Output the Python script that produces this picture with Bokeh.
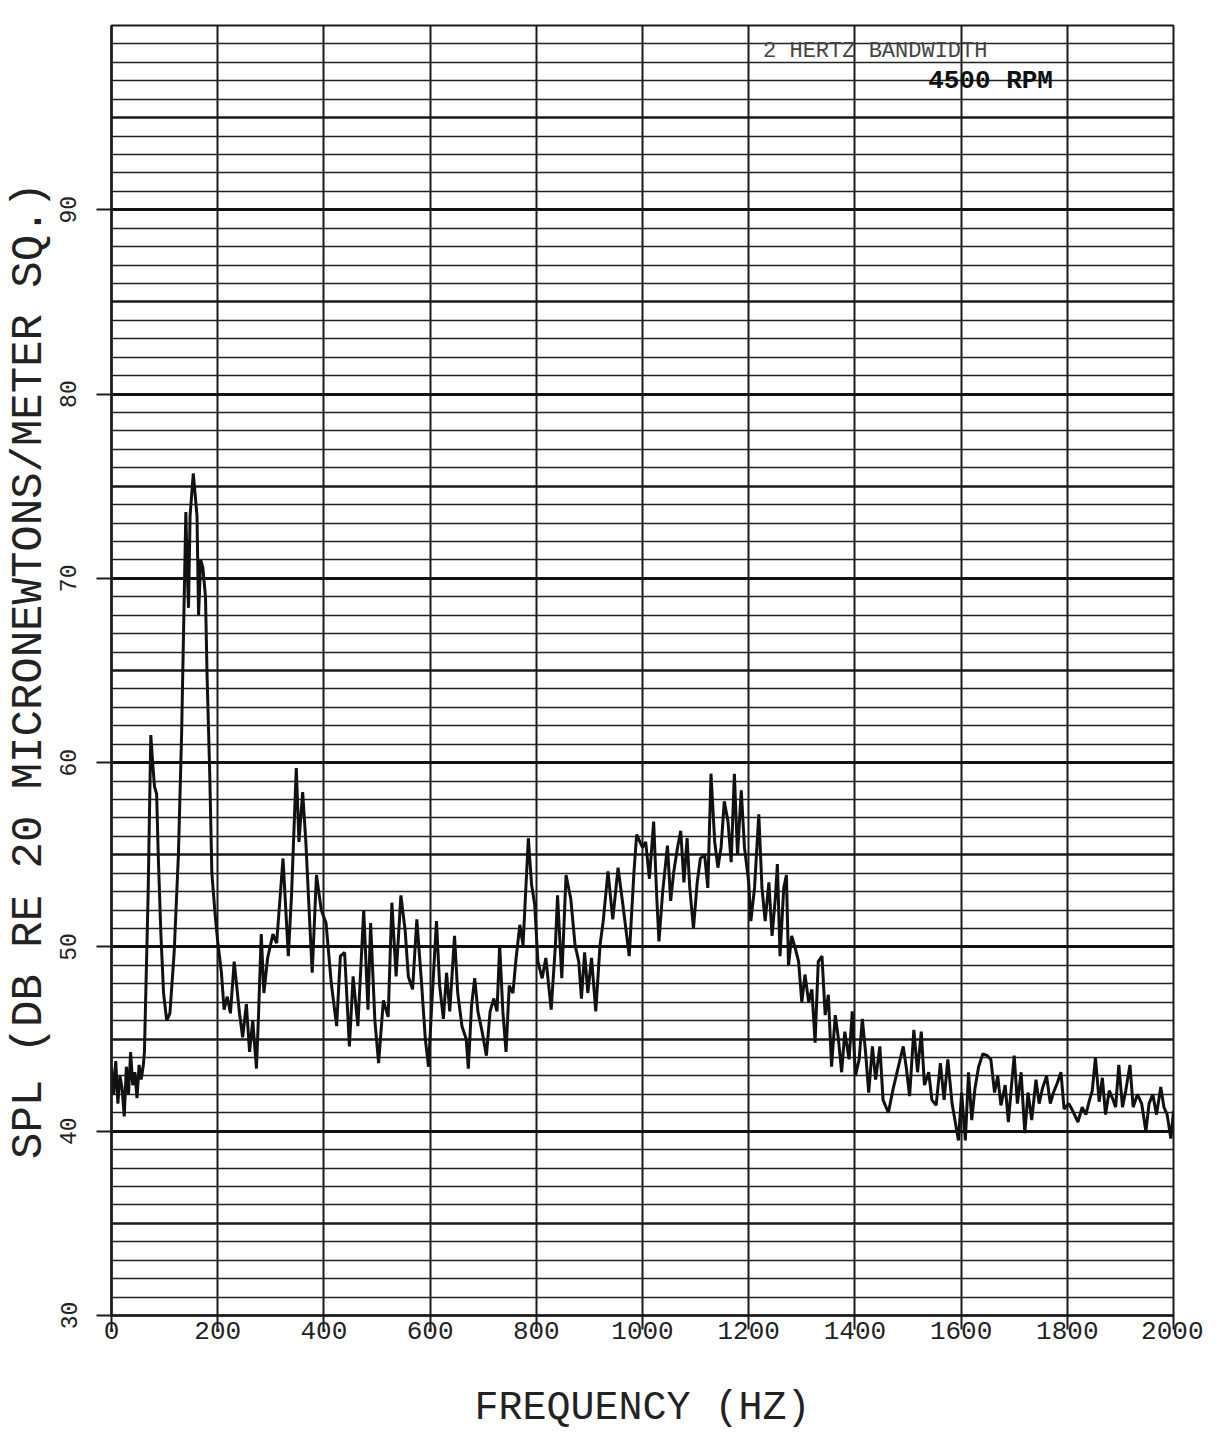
from bokeh.plotting import figure
from bokeh.models import Grid, FixedTicker, Range1d, Label
from bokeh.embed import file_html
from bokeh.resources import INLINE

# ---- data ----
freq = [0, 4, 8, 12, 16, 20, 24, 28, 32, 36, 40, 44, 48, 52, 56, 60,
        62, 69, 74, 78, 81, 85, 88, 93, 98, 104, 110, 118, 126, 132, 140, 143, 145, 148, 154, 158, 161,
        164, 168, 172, 177, 180, 185, 189, 195, 200, 207, 212, 218, 224, 231, 235, 241, 247, 254, 260,
        266, 273, 277, 282, 287, 294, 304,
        311, 323, 333, 339, 348, 353, 360, 366, 373, 378, 386, 395, 404, 414, 424, 431, 439, 448, 455,
        464, 475, 483, 488, 496, 503, 512, 521, 528, 536, 545, 553, 559, 567, 575, 584,
        591, 597, 603, 612, 618, 625, 631, 637, 646, 652, 660, 668, 672, 678, 684, 690, 698, 706, 713,
        720, 726, 731, 737, 743, 749, 756, 762, 769, 775, 785, 791, 797, 803, 811, 818, 828, 836, 840,
        848, 856, 865, 873, 880, 885, 891, 897, 904, 912, 920, 926, 935, 944, 954, 963, 975, 984, 989,
        1000, 1006, 1013, 1021, 1027, 1031, 1038, 1047, 1053, 1059, 1066, 1072, 1078, 1084, 1089, 1096,
        1103, 1109, 1117, 1123, 1129, 1136, 1142, 1148, 1154, 1161, 1167, 1173, 1179, 1186, 1192, 1200,
        1204, 1211, 1219, 1225, 1231, 1238, 1244, 1250, 1254, 1259, 1266, 1271, 1275, 1281, 1288, 1294,
        1300, 1306, 1313, 1319, 1325, 1331, 1338, 1344, 1350, 1356, 1363, 1369, 1375, 1381, 1389,
        1395, 1401, 1408, 1414, 1420, 1426, 1433, 1439, 1447, 1453, 1463, 1472, 1481, 1491, 1497, 1503,
        1511, 1518, 1525, 1531, 1539, 1545, 1553, 1561, 1568, 1575, 1583, 1589, 1595, 1601, 1608, 1614,
        1620, 1626, 1633, 1641, 1649, 1656, 1663, 1669, 1675, 1683, 1689, 1695, 1700, 1706, 1713, 1720,
        1726, 1733, 1741, 1747, 1753, 1761, 1768, 1774, 1781, 1788, 1794, 1803, 1812, 1820,
        1828, 1835, 1841, 1847, 1853, 1860, 1866, 1872, 1879, 1885,
        1891, 1897, 1904, 1910, 1918, 1924, 1932, 1940, 1948, 1954, 1961, 1968, 1976, 1982, 1988, 1995,
        2000]

spl = [43.5, 42.0, 43.8, 41.5, 43.0, 42.3, 40.8, 43.5, 42.0, 44.3, 42.5, 43.2, 41.8, 43.6, 42.8, 43.6,
       44.3, 52.9, 61.5, 59.8, 58.7, 58.3, 55.0, 50.7, 47.5, 46.0, 46.4, 49.7, 55.0, 61.5, 73.6, 70.1, 68.4, 73.4, 75.7, 74.4, 73.4,
       68.0, 71.0, 70.6, 69.0, 64.7, 59.4, 54.0, 51.8, 50.3, 48.6, 46.6, 47.3, 46.4, 49.2, 48.1, 46.4, 45.1, 46.9, 44.3,
       46.0, 43.4, 46.4, 50.7, 47.5, 49.4, 50.7,
       50.2, 54.8, 49.5, 52.8, 59.7, 55.7, 58.4, 55.7, 51.5, 48.6, 53.9, 52.0, 51.3, 48.0, 45.7, 49.5, 49.7, 44.6, 48.4,
       45.7, 52.0, 46.6, 51.3, 46.0, 43.7, 47.1, 46.2, 52.4, 48.4, 52.8, 50.9, 48.4, 47.7, 51.5, 48.0,
       45.0, 43.5, 46.8, 51.4, 47.9, 46.1, 48.6, 46.5, 50.6, 47.5, 45.7, 45.0, 43.4, 46.8, 48.3, 46.5, 45.4, 44.1, 46.5,
       47.2, 46.5, 50.1, 46.5, 44.3, 47.9, 47.5, 49.4, 51.2, 50.1, 55.9, 53.4, 52.3, 49.2, 48.3, 49.4, 46.6, 50.1, 52.8,
       48.3, 53.9, 52.6, 50.1, 49.2, 47.2, 49.7, 47.5, 49.4, 46.5, 50.1, 51.4, 54.1, 51.5, 54.3, 52.3, 49.5, 54.1, 56.1,
       55.4, 55.7, 53.7, 56.8, 52.6, 50.3, 53.0, 55.5, 52.5, 54.1, 55.4, 56.3, 53.5, 55.9, 53.2, 51.0,
       53.5, 54.8, 55.0, 53.2, 59.4, 55.7, 54.3, 55.4, 57.9, 56.8, 54.6, 59.4, 55.0, 58.5, 55.4, 53.5,
       51.4, 53.2, 57.2, 53.2, 51.4, 53.5, 50.6, 52.6, 54.5, 49.5, 53.2, 53.9, 49.0, 50.6, 49.9, 49.2,
       47.0, 48.5, 47.0, 47.7, 44.8, 49.2, 49.5, 46.3, 47.4, 43.5, 46.3, 45.0, 43.2, 45.4, 43.9,
       46.5, 43.0, 43.9, 46.1, 44.3, 42.1, 44.6, 42.8, 44.6, 41.7, 41.0, 42.3, 43.4, 44.6, 43.4, 41.9,
       45.5, 43.2, 45.4, 42.5, 43.2, 41.7, 41.4, 43.7, 41.7, 43.9, 41.5, 40.5, 39.5, 42.1, 39.5, 43.2,
       40.6, 42.3, 43.5, 44.2, 44.1, 43.9, 42.1, 43.0, 41.4, 42.5, 40.5, 42.5, 44.1, 41.5, 43.2, 39.9,
       42.1, 40.6, 42.8, 41.5, 42.3, 43.0, 41.5, 42.1, 42.6, 43.2, 41.2, 41.5, 41.0, 40.5,
       41.3, 40.9, 41.6, 42.2, 44.0, 41.6, 42.9, 40.9, 42.2, 41.8,
       41.3, 43.6, 41.3, 42.2, 43.6, 41.3, 42.0, 41.5, 40.0, 41.5, 42.0, 40.9, 42.4, 41.3, 40.9, 39.6,
       41.1]

x_ticks = [0, 200, 400, 600, 800, 1000, 1200, 1400, 1600, 1800, 2000]
y_ticks = [30, 40, 50, 60, 70, 80, 90]
grid_10db = [40, 50, 60, 70, 80, 90]
grid_5db = [35, 45, 55, 65, 75, 85, 95]
grid_1db = [v for v in range(31, 100) if v % 5 != 0]

FONT = "Liberation Mono"
INK = "#1a1a1a"

p = figure(frame_width=1062, frame_height=1290,
           x_range=Range1d(0, 2000), y_range=Range1d(30, 100),
           output_backend="svg", toolbar_location=None,
           min_border_left=110, min_border_top=25, min_border_right=30, min_border_bottom=118)
p.background_fill_color = "white"
p.border_fill_color = "white"
p.outline_line_color = INK
p.outline_line_width = 2

# grids
p.xgrid.ticker = FixedTicker(ticks=x_ticks)
p.xgrid.grid_line_color = INK
p.xgrid.grid_line_width = 2
p.ygrid.ticker = FixedTicker(ticks=grid_1db)
p.ygrid.grid_line_color = "#222222"
p.ygrid.grid_line_width = 1.7
p.add_layout(Grid(dimension=1, ticker=FixedTicker(ticks=grid_5db),
                  grid_line_color=INK, grid_line_width=2.4))
p.add_layout(Grid(dimension=1, ticker=FixedTicker(ticks=grid_10db),
                  grid_line_color="#111111", grid_line_width=3.2))

# axes
for ax in (p.xaxis[0], p.yaxis[0]):
    ax.axis_line_color = INK
    ax.axis_line_width = 2.5
    ax.major_tick_line_color = INK
    ax.major_tick_line_width = 2
    ax.major_tick_in = 0
    ax.minor_tick_in = 0
    ax.minor_tick_out = 0
    ax.major_label_text_font = FONT
    ax.major_label_text_color = "#222222"
    ax.axis_label_text_font = FONT
    ax.axis_label_text_font_style = "normal"
    ax.axis_label_text_color = "#222222"

p.xaxis.ticker = FixedTicker(ticks=x_ticks)
p.xaxis.major_tick_out = 14
p.xaxis.major_label_standoff = -8
p.xaxis.major_label_text_font_size = "26px"
p.xaxis.axis_label = "FREQUENCY (HZ)"
p.xaxis.axis_label_text_font_size = "40px"
p.xaxis.axis_label_standoff = 44

p.yaxis.ticker = FixedTicker(ticks=y_ticks)
p.yaxis.major_tick_out = 15
p.yaxis.major_label_orientation = "vertical"
p.yaxis.major_label_standoff = 20
p.yaxis.major_label_text_font_size = "23px"
p.yaxis.axis_label = "SPL (DB RE 20 MICRONEWTONS/METER SQ.)"
p.yaxis.axis_label_text_font_size = "44px"
p.yaxis.axis_label_standoff = 4

# spectrum trace
p.line(freq, spl, line_color="#111111", line_width=3)

# annotations
p.add_layout(Label(x=1227, y=97.9, text="2 HERTZ BANDWIDTH", text_font=FONT,
                   text_font_size="22px", text_color="#444444"))
p.add_layout(Label(x=1773, y=96.15, text="4500 RPM", text_font=FONT, text_align="right",
                   text_font_size="26px", text_font_style="bold", text_color="#111111"))

open("out.html", "w").write(file_html(p, INLINE))
